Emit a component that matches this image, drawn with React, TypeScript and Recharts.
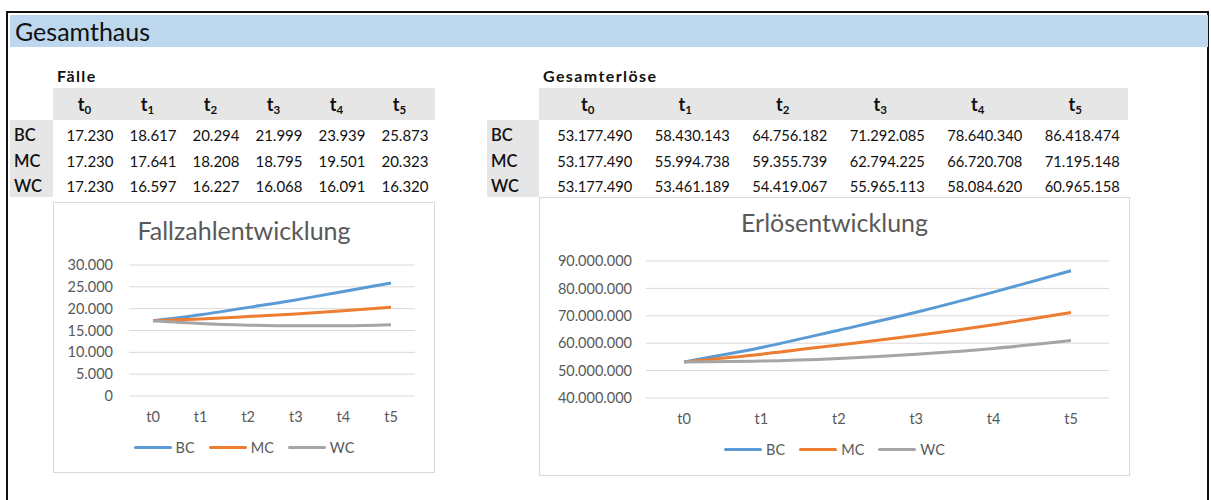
import { LineChart, Line, XAxis, YAxis, CartesianGrid, Legend } from 'recharts';

const periods = ['t0', 't1', 't2', 't3', 't4', 't5'];
const periodSubs = ['0', '1', '2', '3', '4', '5'];
const scenarios = ['BC', 'MC', 'WC'];

const faelleBC = [17230, 18617, 20294, 21999, 23939, 25873];
const faelleMC = [17230, 17641, 18208, 18795, 19501, 20323];
const faelleWC = [17230, 16597, 16227, 16068, 16091, 16320];

const erloeseBC = [53177490, 58430143, 64756182, 71292085, 78640340, 86418474];
const erloeseMC = [53177490, 55994738, 59355739, 62794225, 66720708, 71195148];
const erloeseWC = [53177490, 53461189, 54419067, 55965113, 58084620, 60965158];

const faelleTicks = [0, 5000, 10000, 15000, 20000, 25000, 30000];
const erloeseTicks = [40000000, 50000000, 60000000, 70000000, 80000000, 90000000];

const colors: Record<string, string> = { BC: '#5b9bd5', MC: '#ed7d31', WC: '#a5a5a5' };
const FONT = 'Lato, "Open Sans", sans-serif';

const fmt = (n: number) => String(n).replace(/\B(?=(\d{3})+(?!\d))/g, '.');

const faelleRows = periods.map((p, i) => ({ p, BC: faelleBC[i], MC: faelleMC[i], WC: faelleWC[i] }));
const erloeseRows = periods.map((p, i) => ({ p, BC: erloeseBC[i], MC: erloeseMC[i], WC: erloeseWC[i] }));

function LegendBox() {
  return (
    <div style={{ display: 'flex', justifyContent: 'center', alignItems: 'center', gap: 14, fontFamily: FONT, fontSize: 14.5, color: '#595959' }}>
      {scenarios.map((s) => (
        <div key={s} style={{ display: 'flex', alignItems: 'center', gap: 4 }}>
          <span style={{ display: 'inline-block', width: 38, height: 3, background: colors[s], borderRadius: 2 }} />
          <span>{s}</span>
        </div>
      ))}
    </div>
  );
}

type TableProps = {
  title: string;
  values: number[][];
  left: number;
  labelWidth: number;
  colWidth: number;
  numShift: number;
  numSize: number;
};

function DataTable({ title, values, left, labelWidth, colWidth, numShift, numSize }: TableProps) {
  const cell = { fontFamily: FONT, fontSize: 14.5, color: '#111' };
  return (
    <div style={{ position: 'absolute', left, top: 66 }}>
      <div style={{ ...cell, fontSize: 16, letterSpacing: 1.4, fontWeight: 700, position: 'absolute', left: labelWidth + 4, top: 0, whiteSpace: 'nowrap' }}>{title}</div>
      <div style={{ position: 'absolute', left: labelWidth, top: 22, height: 32, width: colWidth * 6 + 4, background: '#e7e6e6', display: 'flex' }}>
        {periodSubs.map((s) => (
          <div key={s} style={{ ...cell, fontSize: 18, fontWeight: 700, width: colWidth, textAlign: 'center', lineHeight: '32px' }}>
            t<sub style={{ fontSize: 11.5, verticalAlign: '-3px' }}>{s}</sub>
          </div>
        ))}
      </div>
      <div style={{ position: 'absolute', left: 0, top: 54, width: labelWidth, height: 77, background: '#e7e6e6' }} />
      {values.map((row, r) => (
        <div key={r} style={{ position: 'absolute', left: 0, top: 58 + r * 25.5, display: 'flex', height: 22, alignItems: 'center' }}>
          <div style={{ ...cell, fontSize: 16.5, fontWeight: 600, width: labelWidth, paddingLeft: 4, boxSizing: 'border-box' }}>{scenarios[r]}</div>
          {row.map((v, i) => (
            <div key={i} style={{ ...cell, fontSize: numSize, width: colWidth, textAlign: 'center', paddingLeft: numShift * 2, boxSizing: 'border-box' }}>{fmt(v)}</div>
          ))}
        </div>
      ))}
    </div>
  );
}

const axisTick = { fill: '#595959', fontSize: 14.5, fontFamily: FONT };

export default function App() {
  return (
    <div style={{ position: 'absolute', left: 0, top: 0, width: 1211, height: 500, overflow: 'hidden', background: '#fff' }}>
      <div style={{ position: 'absolute', left: 6, top: 11, width: 1199, height: 520, border: '2px solid #111' }} />
      <div style={{ position: 'absolute', left: 10, top: 15, width: 1198, height: 32, background: '#bdd7ee' }} />
      <div style={{ position: 'absolute', left: 15, top: 16, fontFamily: FONT, fontSize: 25, color: '#111' }}>Gesamthaus</div>

      <DataTable title="Fälle" values={[faelleBC, faelleMC, faelleWC]} left={10} labelWidth={43} colWidth={63} numShift={5.5} numSize={15} />
      <DataTable title="Gesamterlöse" values={[erloeseBC, erloeseMC, erloeseWC]} left={487} labelWidth={52} colWidth={97.5} numShift={7} numSize={14.7} />

      <div style={{ position: 'absolute', left: 53, top: 202, width: 382, height: 271, border: '1px solid #d9d9d9', boxSizing: 'border-box', background: '#fff' }}>
        <div style={{ position: 'absolute', left: 0, width: '100%', top: 12, textAlign: 'center', fontFamily: FONT, fontSize: 25, color: '#595959' }}>Fallzahlentwicklung</div>
        <LineChart width={380} height={269} data={faelleRows} margin={{ top: 62, right: 19, bottom: 46, left: 0 }}>
          <CartesianGrid vertical={false} stroke="#d9d9d9" />
          <XAxis dataKey="p" axisLine={false} tickLine={false} tick={axisTick} tickMargin={10} height={30} padding={{ left: 24, right: 24 }} />
          <YAxis domain={[0, 30000]} ticks={faelleTicks} interval={0} tickFormatter={fmt} axisLine={false} tickLine={false} tick={axisTick} tickMargin={10} width={75} />
          <Legend verticalAlign="middle" align="center" wrapperStyle={{ top: 236, left: 0, width: 380 }} content={() => <LegendBox />} />
          {scenarios.map((s) => (
            <Line key={s} type="monotone" dataKey={s} stroke={colors[s]} strokeWidth={3} dot={false} isAnimationActive={false} />
          ))}
        </LineChart>
      </div>

      <div style={{ position: 'absolute', left: 539, top: 197, width: 591, height: 279, border: '1px solid #d9d9d9', boxSizing: 'border-box', background: '#fff' }}>
        <div style={{ position: 'absolute', left: 0, width: '100%', top: 9, textAlign: 'center', fontFamily: FONT, fontSize: 25, color: '#595959' }}>Erlösentwicklung</div>
        <LineChart width={589} height={277} data={erloeseRows} margin={{ top: 63, right: 20, bottom: 47, left: 0 }}>
          <CartesianGrid vertical={false} stroke="#d9d9d9" />
          <XAxis dataKey="p" axisLine={false} tickLine={false} tick={axisTick} tickMargin={10} height={30} padding={{ left: 38, right: 38 }} />
          <YAxis domain={[40000000, 90000000]} ticks={erloeseTicks} interval={0} tickFormatter={fmt} axisLine={false} tickLine={false} tick={axisTick} tickMargin={8} width={106} />
          <Legend verticalAlign="middle" align="center" wrapperStyle={{ top: 243, left: 0, width: 589 }} content={() => <LegendBox />} />
          {scenarios.map((s) => (
            <Line key={s} type="monotone" dataKey={s} stroke={colors[s]} strokeWidth={3} dot={false} isAnimationActive={false} />
          ))}
        </LineChart>
      </div>
    </div>
  );
}
